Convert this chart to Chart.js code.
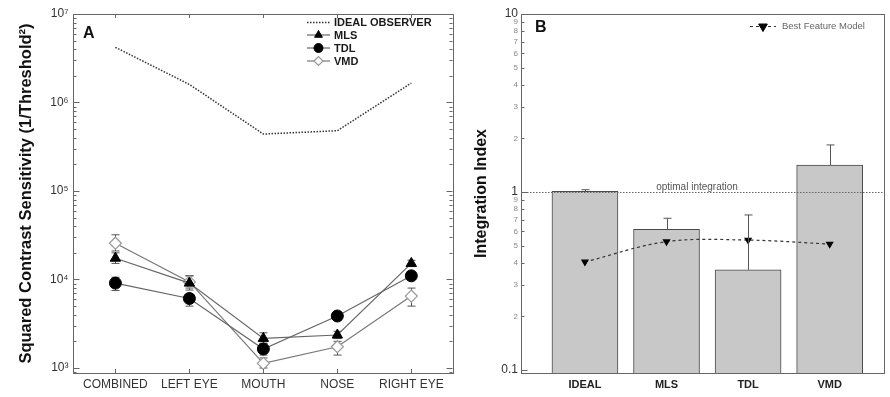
<!DOCTYPE html>
<html><head><meta charset="utf-8">
<script src="https://cdn.jsdelivr.net/npm/chart.js@4/dist/chart.umd.min.js"></script>
<style>
html,body{margin:0;padding:0;background:#fff;width:890px;height:397px;overflow:hidden}
#ca{position:absolute;left:0;top:0}
#cb{position:absolute;left:460px;top:0}
</style></head><body>
<canvas id="ca" width="460" height="397"></canvas>
<canvas id="cb" width="430" height="397"></canvas>
<script>
// ---------- Panel A data ----------
const regions = ['COMBINED', 'LEFT EYE', 'MOUTH', 'NOSE', 'RIGHT EYE'];
const idealObserver = [4200000, 1600000, 440000, 480000, 1660000];
const mlsValues = [17400, 9100, 2160, 2360, 15200];
const mlsHigh   = [20000, 11000, 2500, 2600, 16500];
const mlsLow    = [15200, 7600, 1900, 2150, 14000];
const tdlValues = [9100, 6100, 1640, 3870, 11000];
const tdlHigh   = [10600, 6800, 1900, 4300, 12000];
const tdlLow    = [7500, 5000, 1400, 3500, 10000];
const vmdValues = [25700, 9400, 1130, 1740, 6500];
const vmdHigh   = [32000, 11000, 1300, 2000, 8000];
const vmdLow    = [21000, 8000, 1000, 1400, 5000];
const decadeTicksA = [1e3, 1e4, 1e5, 1e6, 1e7];

// ---------- Panel B data ----------
const observers = ['IDEAL', 'MLS', 'TDL', 'VMD'];
const integrationIndex = [1.01, 0.617, 0.365, 1.418];
const integrationHigh  = [1.03, 0.712, 0.743, 1.838];
const bestFeatureModel = [0.405, 0.526, 0.537, 0.51];
const optimalIntegration = 1;
const tickValuesB = [0.1,0.2,0.3,0.4,0.5,0.6,0.7,0.8,0.9,1,2,3,4,5,6,7,8,9,10];
const majorTicksB = [0.1, 1, 10];

const FONT = '"Liberation Sans", Arial, Helvetica, sans-serif';
Chart.defaults.font.family = FONT;
Chart.defaults.animation = false;

const SUP = {'0':'⁰','1':'¹','2':'²','3':'³','4':'⁴','5':'⁵','6':'⁶','7':'⁷','8':'⁸','9':'⁹'};
const supText = s => String(s).split('').map(c => SUP[c] || c).join('');

function point(ctx, style, r, x, y, fill, stroke, bw, rot) {
  ctx.save();
  ctx.fillStyle = fill; ctx.strokeStyle = stroke; ctx.lineWidth = bw;
  Chart.helpers.drawPoint(ctx, {pointStyle: style, radius: r, rotation: rot || 0, borderWidth: bw}, x, y);
  ctx.restore();
}

function logTicks(scale, side, lenMaj, lenMin) {
  const ctx = scale.chart.ctx;
  const min = scale.min, max = scale.max;
  const e0 = Math.floor(Math.log10(min)), e1 = Math.ceil(Math.log10(max));
  const xEdge = side === 'left' ? Math.round(scale.chart.chartArea.left) + 0.5 : Math.round(scale.chart.chartArea.right) + 0.5;
  const dir = side === 'left' ? 1 : -1;
  ctx.beginPath();
  for (let e = e0; e <= e1; e++) {
    for (let m = 1; m <= 9; m++) {
      const v = m * Math.pow(10, e);
      if (v < min * 0.999 || v > max * 1.001) continue;
      const py = Math.round(scale.getPixelForValue(v)) + 0.5;
      const len = m === 1 ? lenMaj : lenMin;
      ctx.moveTo(xEdge, py); ctx.lineTo(xEdge + dir * len, py);
    }
  }
  ctx.stroke();
}

// ---------- Panel A ----------
const errSeriesA = [
  {vals: mlsValues, hi: mlsHigh, lo: mlsLow},
  {vals: tdlValues, hi: tdlHigh, lo: tdlLow},
  {vals: vmdValues, hi: vmdHigh, lo: vmdLow}
];

const panelAPlugin = {
  id: 'panelA',
  beforeDatasetsDraw(chart) {
    const ctx = chart.ctx, xs = chart.scales.x, ys = chart.scales.y;
    ctx.save();
    ctx.strokeStyle = '#555'; ctx.lineWidth = 1;
    errSeriesA.forEach(s => {
      s.vals.forEach((v, i) => {
        const px = Math.round(xs.getPixelForValue(i)) + 0.5;
        const ph = ys.getPixelForValue(s.hi[i]), pl = ys.getPixelForValue(s.lo[i]);
        ctx.beginPath();
        ctx.moveTo(px, ph); ctx.lineTo(px, pl);
        ctx.moveTo(px - 4, ph); ctx.lineTo(px + 4, ph);
        ctx.moveTo(px - 4, pl); ctx.lineTo(px + 4, pl);
        ctx.stroke();
      });
    });
    ctx.restore();
  },
  afterDraw(chart) {
    const ctx = chart.ctx, a = chart.chartArea, xs = chart.scales.x, ys = chart.scales.y;
    ctx.save();
    ctx.strokeStyle = '#666'; ctx.lineWidth = 1;
    ctx.strokeRect(Math.round(a.left) + 0.5, Math.round(a.top) + 0.5,
      Math.round(a.right - a.left), Math.round(a.bottom - a.top));
    logTicks(ys, 'left', 6, 3);
    logTicks(ys, 'right', 6, 3);
    ctx.beginPath();
    regions.forEach((r, i) => {
      const px = Math.round(xs.getPixelForValue(i)) + 0.5;
      ctx.moveTo(px, a.top); ctx.lineTo(px, a.top + 4);
      ctx.moveTo(px, a.bottom); ctx.lineTo(px, a.bottom - 4);
    });
    ctx.stroke();
    // panel letter
    ctx.fillStyle = '#111';
    ctx.font = 'bold 16px ' + FONT;
    ctx.textBaseline = 'alphabetic';
    ctx.fillText('A', 83, 38);
    // legend
    const rows = [22, 34.5, 47.5, 60.5];
    const x0 = 307, x1 = 330, xm = 318.5;
    ctx.font = 'bold 11px ' + FONT;
    ctx.textBaseline = 'middle';
    chart.data.datasets.forEach((ds, k) => {
      const y = rows[k];
      ctx.save();
      ctx.strokeStyle = ds.borderColor; ctx.lineWidth = ds.borderWidth;
      ctx.setLineDash(ds.borderDash || []);
      ctx.beginPath(); ctx.moveTo(x0, y + 0.5); ctx.lineTo(x1, y + 0.5); ctx.stroke();
      ctx.restore();
      if (ds.pointRadius > 0) {
        point(ctx, ds.pointStyle, ds.pointRadius * 0.75, xm, y + 0.5, ds.pointBackgroundColor, ds.pointBorderColor, ds.pointBorderWidth);
      }
      ctx.fillStyle = '#1a1a1a';
      ctx.fillText(ds.label, 334, y + 1);
    });
    ctx.restore();
  }
};

new Chart(document.getElementById('ca'), {
  type: 'line',
  data: {
    datasets: [
      {label: 'IDEAL OBSERVER', data: idealObserver.map((v, i) => ({x: i, y: v})),
       borderColor: '#333', borderWidth: 1.5, borderDash: [1.5, 1.5], pointRadius: 0,
       pointStyle: 'line', pointBackgroundColor: '#333', pointBorderColor: '#333', pointBorderWidth: 0},
      {label: 'MLS', data: mlsValues.map((v, i) => ({x: i, y: v})),
       borderColor: '#666', borderWidth: 1.2, pointStyle: 'triangle', pointRadius: 6,
       pointBackgroundColor: '#000', pointBorderColor: '#000', pointBorderWidth: 1},
      {label: 'TDL', data: tdlValues.map((v, i) => ({x: i, y: v})),
       borderColor: '#666', borderWidth: 1.2, pointStyle: 'circle', pointRadius: 6,
       pointBackgroundColor: '#000', pointBorderColor: '#000', pointBorderWidth: 1},
      {label: 'VMD', data: vmdValues.map((v, i) => ({x: i, y: v})),
       borderColor: '#777', borderWidth: 1.2, pointStyle: 'rectRot', pointRadius: 6,
       pointBackgroundColor: '#fff', pointBorderColor: '#999', pointBorderWidth: 1.2}
    ]
  },
  options: {
    responsive: false,
    animation: false,
    layout: {padding: {top: 14, right: 8, left: 0, bottom: 0}},
    plugins: {legend: {display: false}, tooltip: {enabled: false}},
    scales: {
      x: {
        type: 'linear', min: -0.58, max: 4.55, offset: false,
        afterBuildTicks: s => { s.ticks = regions.map((r, i) => ({value: i})); },
        afterFit: s => { s.height = 24; },
        grid: {display: false, drawTicks: false},
        border: {display: false},
        ticks: {autoSkip: false, maxRotation: 0, padding: 4, color: '#333',
                font: {size: 12}, callback: v => regions[v]}
      },
      y: {
        type: 'logarithmic', min: 878, max: 1e7,
        afterBuildTicks: s => { s.ticks = decadeTicksA.map(v => ({value: v})); },
        afterFit: s => { s.width = 72.5; },
        grid: {display: false, drawTicks: false},
        border: {display: false},
        ticks: {autoSkip: false, padding: 4, color: '#333', font: {size: 12},
                callback: v => '10' + supText(Math.round(Math.log10(v)))},
        title: {display: true, text: 'Squared Contrast Sensitivity (1/Threshold²)',
                color: '#111', font: {size: 16.5, weight: 'bold'}, padding: {top: 17, bottom: 0}}
      }
    }
  },
  plugins: [panelAPlugin]
});

// ---------- Panel B ----------
const panelBPlugin = {
  id: 'panelB',
  afterDatasetsDraw(chart) {
    const ctx = chart.ctx, a = chart.chartArea, xs = chart.scales.x, ys = chart.scales.y;
    ctx.save();
    // error bars (upper only)
    ctx.strokeStyle = '#555'; ctx.lineWidth = 1;
    integrationIndex.forEach((v, i) => {
      const px = Math.round(xs.getPixelForValue(i)) + 0.5;
      const pt = ys.getPixelForValue(v), ph = ys.getPixelForValue(integrationHigh[i]);
      ctx.beginPath();
      ctx.moveTo(px, pt); ctx.lineTo(px, ph);
      ctx.moveTo(px - 4, ph); ctx.lineTo(px + 4, ph);
      ctx.stroke();
    });
    // optimal integration line
    const py = Math.round(ys.getPixelForValue(optimalIntegration)) + 0.5;
    ctx.strokeStyle = '#666'; ctx.setLineDash([1.5, 1.5]);
    ctx.beginPath(); ctx.moveTo(a.left, py); ctx.lineTo(a.right, py); ctx.stroke();
    ctx.setLineDash([]);
    ctx.fillStyle = '#555'; ctx.font = '10px ' + FONT; ctx.textAlign = 'center'; ctx.textBaseline = 'alphabetic';
    ctx.fillText('optimal integration', 697 - 460, py - 3);
    ctx.restore();
  },
  afterDraw(chart) {
    const ctx = chart.ctx, a = chart.chartArea, ys = chart.scales.y;
    ctx.save();
    ctx.strokeStyle = '#666'; ctx.lineWidth = 1;
    ctx.strokeRect(Math.round(a.left) + 0.5, Math.round(a.top) + 0.5,
      Math.round(a.right - a.left) - 1, Math.round(a.bottom - a.top));
    logTicks(ys, 'left', 6, 3);
    ctx.fillStyle = '#111';
    ctx.font = 'bold 16px ' + FONT;
    ctx.textBaseline = 'alphabetic';
    ctx.fillText('B', 535 - 460, 32);
    // legend
    const ds = chart.data.datasets[1];
    const y = 26.5;
    ctx.save();
    ctx.strokeStyle = ds.borderColor; ctx.lineWidth = 1; ctx.setLineDash([3, 3]);
    ctx.beginPath(); ctx.moveTo(750 - 460, y); ctx.lineTo(776 - 460, y); ctx.stroke();
    ctx.restore();
    point(ctx, 'triangle', 5, 763 - 460, y, '#000', '#000', 1, 180);
    ctx.fillStyle = '#666'; ctx.font = '9.5px ' + FONT; ctx.textBaseline = 'middle';
    ctx.fillText(ds.label, 782 - 460, y);
    ctx.restore();
  }
};

new Chart(document.getElementById('cb'), {
  type: 'bar',
  data: {
    datasets: [
      {type: 'bar', label: 'Integration Index', data: integrationIndex.map((v, i) => ({x: i, y: v})),
       backgroundColor: '#c8c8c8', borderColor: '#4a4a4a', borderWidth: 1, borderSkipped: 'bottom',
       barThickness: 66, grouped: false, order: 2},
      {type: 'line', label: 'Best Feature Model', data: bestFeatureModel.map((v, i) => ({x: i, y: v})),
       borderColor: '#333', borderWidth: 1.2, borderDash: [3, 3], tension: 0.35, fill: false,
       pointStyle: 'triangle', pointRotation: 180, pointRadius: 3.5,
       pointBackgroundColor: '#000', pointBorderColor: '#000', order: 1}
    ]
  },
  options: {
    responsive: false,
    animation: false,
    layout: {padding: {top: 14, right: 1, left: 0, bottom: 0}},
    plugins: {legend: {display: false}, tooltip: {enabled: false}},
    scales: {
      x: {
        type: 'linear', min: -0.784, max: 3.676, offset: false,
        afterBuildTicks: s => { s.ticks = observers.map((o, i) => ({value: i})); },
        afterFit: s => { s.height = 24; },
        grid: {display: false, drawTicks: false},
        border: {display: false},
        ticks: {autoSkip: false, maxRotation: 0, padding: 5, color: '#222',
                font: {size: 11, weight: 'bold'}, callback: v => observers[v]}
      },
      y: {
        type: 'logarithmic', min: 0.0962, max: 10,
        afterBuildTicks: s => { s.ticks = tickValuesB.map(v => ({value: v})); },
        afterFit: s => { s.width = 61; },
        grid: {display: false, drawTicks: false},
        border: {display: false},
        ticks: {
          autoSkip: false, padding: 3,
          color: c => majorTicksB.includes(c.tick.value) ? '#333' : '#888',
          font: c => majorTicksB.includes(c.tick.value) ? {size: 12} : {size: 8},
          callback: v => majorTicksB.includes(v) ? String(v) : String(Math.round(v / Math.pow(10, Math.floor(Math.log10(v) + 1e-9))))
        },
        title: {display: true, text: 'Integration Index', color: '#111',
                font: {size: 16, weight: 'bold'}, padding: {top: 12, bottom: 0}}
      }
    }
  },
  plugins: [panelBPlugin]
});
</script>
</body></html>
